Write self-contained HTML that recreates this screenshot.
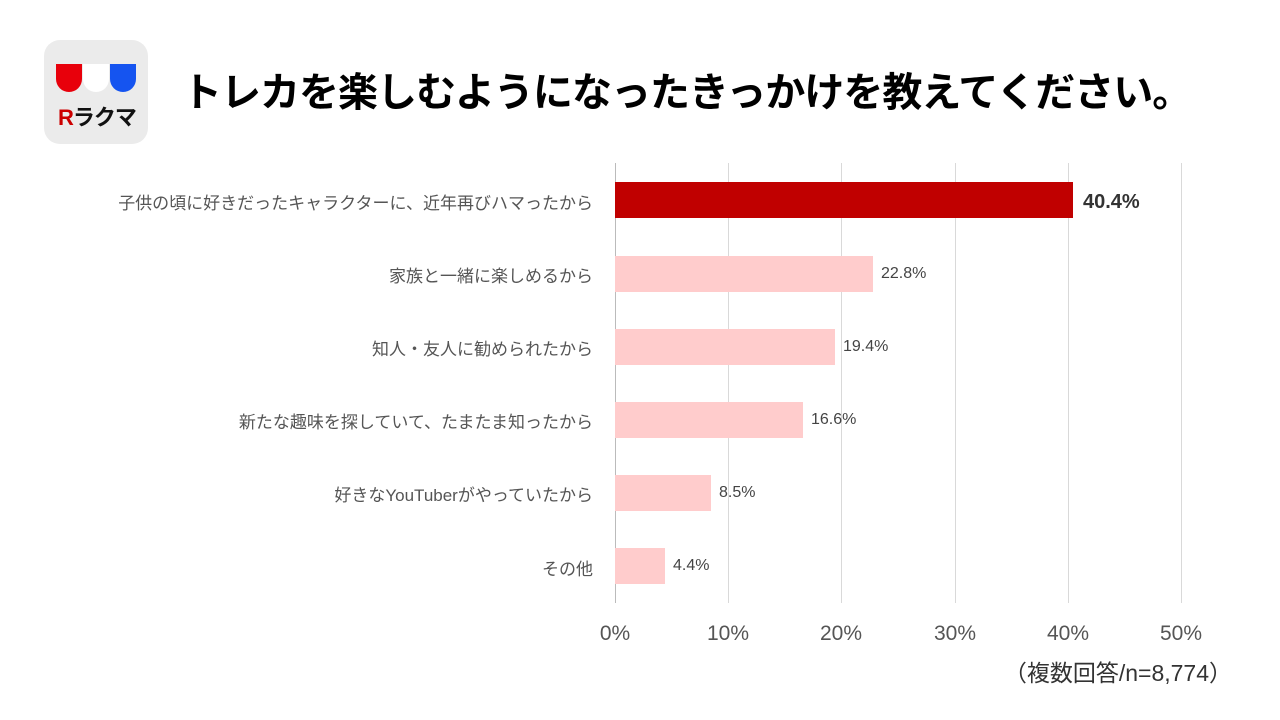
<!DOCTYPE html>
<html><head><meta charset="utf-8"><style>
body{margin:0;width:1280px;height:720px;background:#fff;position:relative;overflow:hidden;font-family:"Liberation Sans","Noto Sans CJK JP",sans-serif;}
.a{position:absolute;}
.logo{left:44px;top:40px;width:104px;height:104px;border-radius:16px;background:#ebebeb;}
.sh{top:24px;width:26px;height:28px;border-radius:0 0 13px 13px;}
.title{left:182px;top:60px;font-size:40px;font-weight:bold;color:#000;white-space:nowrap;letter-spacing:-1px;}
.lab{right:687px;font-size:17px;color:#555;white-space:nowrap;text-align:right;}
.grid{top:163px;width:1px;height:440px;background:#d9d9d9;}
.bar{left:615px;height:36px;background:#ffcccc;}
.val{font-size:16px;color:#444;}
.tick{top:622px;font-size:21px;color:#555;width:80px;text-align:center;}
</style></head><body>
<div class="a logo">
 <div class="a sh" style="left:12px;background:#e8000b"></div>
 <div class="a sh" style="left:39px;background:#fff"></div>
 <div class="a sh" style="left:66px;background:#1554f0"></div>
 <div class="a" style="left:14px;top:60px;font-size:22px;font-weight:bold;color:#111;letter-spacing:-1px"><span style="color:#c00">R</span>ラクマ</div>
</div>
<div class="a title">トレカを楽しむようになったきっかけを教えてください。</div>
<div class="a grid" style="left:615px;background:#bbb"></div>
<div class="a grid" style="left:728px"></div>
<div class="a grid" style="left:841px"></div>
<div class="a grid" style="left:955px"></div>
<div class="a grid" style="left:1068px"></div>
<div class="a grid" style="left:1181px"></div>
<div class="a lab" style="top:189px">子供の頃に好きだったキャラクターに、近年再びハマったから</div>
<div class="a lab" style="top:262px">家族と一緒に楽しめるから</div>
<div class="a lab" style="top:335px">知人・友人に勧められたから</div>
<div class="a lab" style="top:408px">新たな趣味を探していて、たまたま知ったから</div>
<div class="a lab" style="top:481px">好きなYouTuberがやっていたから</div>
<div class="a lab" style="top:555px">その他</div>
<div class="a bar" style="top:182px;width:458px;background:#c00000"></div>
<div class="a bar" style="top:256px;width:258px"></div>
<div class="a bar" style="top:329px;width:220px"></div>
<div class="a bar" style="top:402px;width:188px"></div>
<div class="a bar" style="top:475px;width:96px"></div>
<div class="a bar" style="top:548px;width:50px"></div>
<div class="a" style="left:1083px;top:191px;font-size:20px;font-weight:bold;color:#333">40.4%</div>
<div class="a val" style="left:881px;top:265px">22.8%</div>
<div class="a val" style="left:843px;top:338px">19.4%</div>
<div class="a val" style="left:811px;top:411px">16.6%</div>
<div class="a val" style="left:719px;top:484px">8.5%</div>
<div class="a val" style="left:673px;top:557px">4.4%</div>
<div class="a tick" style="left:575px">0%</div>
<div class="a tick" style="left:688px">10%</div>
<div class="a tick" style="left:801px">20%</div>
<div class="a tick" style="left:915px">30%</div>
<div class="a tick" style="left:1028px">40%</div>
<div class="a tick" style="left:1141px">50%</div>
<div class="a" style="right:48px;top:654px;font-size:23px;color:#333;white-space:nowrap">（複数回答/n=8,774）</div>
</body></html>
